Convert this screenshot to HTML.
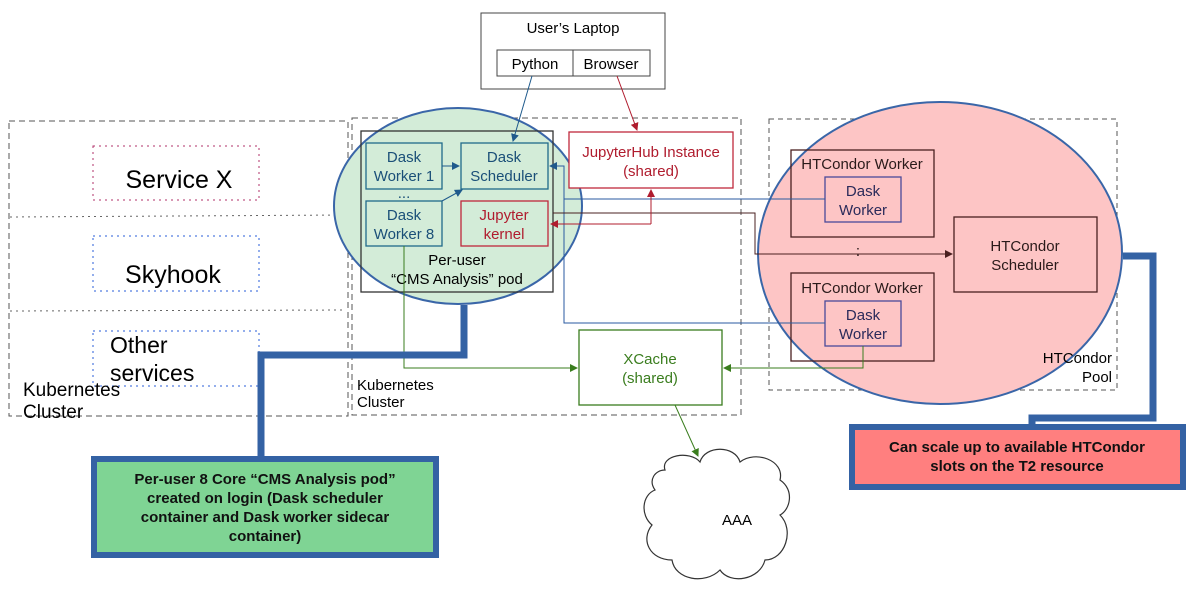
<!DOCTYPE html>
<html><head><meta charset="utf-8"><style>
html,body{margin:0;padding:0;background:#fff;width:1192px;height:606px;overflow:hidden}
svg{display:block}
text{font-family:"Liberation Sans",sans-serif}
</style></head><body>
<svg width="1192" height="606" viewBox="0 0 1192 606" xmlns="http://www.w3.org/2000/svg">
<defs>
<marker id="ab" markerWidth="8" markerHeight="8" refX="7" refY="4" orient="auto" markerUnits="userSpaceOnUse"><path d="M0,0 L8,4 L0,8 z" fill="#1f5a8c"/></marker>
<marker id="ar" markerWidth="8" markerHeight="8" refX="7" refY="4" orient="auto" markerUnits="userSpaceOnUse"><path d="M0,0 L8,4 L0,8 z" fill="#b01c2e"/></marker>
<marker id="ag" markerWidth="8" markerHeight="8" refX="7" refY="4" orient="auto" markerUnits="userSpaceOnUse"><path d="M0,0 L8,4 L0,8 z" fill="#3a7d1e"/></marker>
<marker id="ak" markerWidth="8" markerHeight="8" refX="7" refY="4" orient="auto" markerUnits="userSpaceOnUse"><path d="M0,0 L8,4 L0,8 z" fill="#4a2020"/></marker>
</defs>

<rect x="9" y="121" width="339" height="295" fill="none" stroke="#555" stroke-dasharray="6,4"/>
<line x1="10" y1="217" x2="345" y2="215" stroke="#666" stroke-dasharray="2,4"/>
<line x1="10" y1="311" x2="345" y2="310" stroke="#666" stroke-dasharray="2,4"/>
<rect x="93" y="146" width="166" height="54" fill="none" stroke="#b0306a" stroke-dasharray="2,4"/>
<rect x="93" y="236" width="166" height="55" fill="none" stroke="#2a5ed8" stroke-dasharray="2,4"/>
<rect x="93" y="331" width="166" height="55" fill="none" stroke="#2a5ed8" stroke-dasharray="2,4"/>
<text x="179" y="188" font-size="25" text-anchor="middle">Service X</text>
<text x="173" y="283" font-size="25" text-anchor="middle">Skyhook</text>
<text x="110" y="353" font-size="23">Other</text>
<text x="110" y="381" font-size="23">services</text>
<text x="23" y="396" font-size="19">Kubernetes</text>
<text x="23" y="418" font-size="19">Cluster</text>

<rect x="352" y="118" width="389" height="297" fill="none" stroke="#555" stroke-dasharray="6,4"/>
<text x="357" y="390" font-size="15">Kubernetes</text>
<text x="357" y="407" font-size="15">Cluster</text>

<rect x="769" y="119" width="348" height="271" fill="none" stroke="#555" stroke-dasharray="5,4"/>
<ellipse cx="940" cy="253" rx="182" ry="151" fill="#fdc5c5" stroke="#3a66a8" stroke-width="2"/>

<ellipse cx="458" cy="206" rx="124" ry="98" fill="#d3ecd8" stroke="#3a66a8" stroke-width="2"/>

<rect x="481" y="13" width="184" height="76" fill="#fff" stroke="#444"/>
<text x="573" y="33" font-size="15" text-anchor="middle">User’s Laptop</text>
<rect x="497" y="50" width="76" height="26" fill="#fff" stroke="#444"/>
<rect x="573" y="50" width="77" height="26" fill="#fff" stroke="#444"/>
<text x="535" y="69" font-size="15" text-anchor="middle">Python</text>
<text x="611" y="69" font-size="15" text-anchor="middle">Browser</text>

<rect x="361" y="131" width="192" height="161" fill="none" stroke="#333" stroke-width="1.3"/>
<g fill="none" stroke="#1f6a8a" stroke-width="1.3">
<rect x="366" y="143" width="76" height="46"/>
<rect x="461" y="143" width="87" height="46"/>
<rect x="366" y="201" width="76" height="45"/>
</g>
<rect x="461" y="201" width="87" height="45" fill="none" stroke="#c0283c" stroke-width="1.3"/>
<g font-size="15" fill="#1a4f78" text-anchor="middle">
<text x="404" y="162">Dask</text><text x="404" y="181">Worker 1</text>
<text x="504" y="162">Dask</text><text x="504" y="181">Scheduler</text>
<text x="404" y="220">Dask</text><text x="404" y="239">Worker 8</text>
<text x="404" y="198">...</text>
</g>
<g font-size="15" fill="#b01c2e" text-anchor="middle">
<text x="504" y="220">Jupyter</text><text x="504" y="239">kernel</text>
</g>
<text x="457" y="265" font-size="15" text-anchor="middle">Per-user</text>
<text x="457" y="284" font-size="15" text-anchor="middle">“CMS Analysis” pod</text>

<rect x="569" y="132" width="164" height="56" fill="#fff" stroke="#c0283c" stroke-width="1.3"/>
<text x="651" y="157" font-size="15" fill="#b01c2e" text-anchor="middle">JupyterHub Instance</text>
<text x="651" y="176" font-size="15" fill="#b01c2e" text-anchor="middle">(shared)</text>

<rect x="579" y="330" width="143" height="75" fill="#fff" stroke="#3a7d1e" stroke-width="1.3"/>
<text x="650" y="364" font-size="15" fill="#3a7d1e" text-anchor="middle">XCache</text>
<text x="650" y="383" font-size="15" fill="#3a7d1e" text-anchor="middle">(shared)</text>

<g fill="none" stroke="#4a2020" stroke-width="1.3">
<rect x="791" y="150" width="143" height="87"/>
<rect x="791" y="273" width="143" height="88"/>
<rect x="954" y="217" width="143" height="75"/>
</g>
<g fill="none" stroke="#4a4a9a" stroke-width="1.3">
<rect x="825" y="177" width="76" height="45"/>
<rect x="825" y="301" width="76" height="45"/>
</g>
<g font-size="15" text-anchor="middle" fill="#2a1a1a">
<text x="862" y="169">HTCondor Worker</text>
<text x="862" y="293">HTCondor Worker</text>
<text x="1025" y="251">HTCondor</text><text x="1025" y="270">Scheduler</text>
<text x="858" y="256">:</text>
</g>
<g font-size="15" text-anchor="middle" fill="#2a2a5a">
<text x="863" y="196">Dask</text><text x="863" y="215">Worker</text>
<text x="863" y="320">Dask</text><text x="863" y="339">Worker</text>
</g>
<text x="1112" y="363" font-size="15" text-anchor="end">HTCondor</text>
<text x="1112" y="382" font-size="15" text-anchor="end">Pool</text>

<line x1="532" y1="76" x2="513" y2="141" stroke="#1f5a8c" marker-end="url(#ab)"/>
<line x1="617" y1="76" x2="637" y2="130" stroke="#b01c2e" marker-end="url(#ar)"/>
<line x1="442" y1="166" x2="459" y2="166" stroke="#1f5a8c" marker-end="url(#ab)"/>
<line x1="442" y1="201" x2="462" y2="190" stroke="#1f5a8c" marker-end="url(#ab)"/>
<polyline points="825,199 564,199 564,166 550,166" fill="none" stroke="#2a5aa0" marker-end="url(#ab)"/>
<polyline points="825,323 564,323 564,199" fill="none" stroke="#2a5aa0"/>
<polyline points="553,213 755,213 755,254 952,254" fill="none" stroke="#4a2020" marker-end="url(#ak)"/>
<polyline points="651,224 651,190" fill="none" stroke="#b01c2e" marker-end="url(#ar)"/>
<line x1="651" y1="224" x2="551" y2="224" stroke="#b01c2e" marker-end="url(#ar)"/>
<polyline points="404,246 404,368 577,368" fill="none" stroke="#3a7d1e" marker-end="url(#ag)"/>
<polyline points="863,346 863,368 724,368" fill="none" stroke="#3a7d1e" marker-end="url(#ag)"/>
<line x1="675" y1="405" x2="698" y2="456" stroke="#3a7d1e" marker-end="url(#ag)"/>

<path d="M665,470 C660,455 690,450 700,462 C705,445 735,445 740,462 C755,450 785,460 780,480 C795,490 790,510 780,515 C795,530 785,560 765,560 C760,580 730,585 720,570 C705,585 675,580 672,560 C650,560 640,540 652,525 C640,515 642,495 655,490 C648,480 655,470 665,470 Z" fill="#fff" stroke="#333" stroke-width="1.2"/>
<text x="737" y="525" font-size="15" text-anchor="middle">AAA</text>

<polyline points="464,305 464,355 261,355 261,458" fill="none" stroke="#3462a4" stroke-width="7"/>
<polyline points="1123,256 1153,256 1153,418 1032,418 1032,428" fill="none" stroke="#3462a4" stroke-width="7"/>

<rect x="94" y="459" width="342" height="96" fill="#7fd494" stroke="#3462a4" stroke-width="6"/>
<g font-size="15" font-weight="bold" text-anchor="middle" fill="#111">
<text x="265" y="484">Per-user 8 Core “CMS Analysis pod”</text>
<text x="265" y="503">created on login (Dask scheduler</text>
<text x="265" y="522">container and Dask worker sidecar</text>
<text x="265" y="541">container)</text>
</g>
<rect x="852" y="427" width="331" height="60" fill="#ff7f7f" stroke="#3462a4" stroke-width="6"/>
<g font-size="15" font-weight="bold" text-anchor="middle" fill="#111">
<text x="1017" y="452">Can scale up to available HTCondor</text>
<text x="1017" y="471">slots on the T2 resource</text>
</g>
</svg>
</body></html>
